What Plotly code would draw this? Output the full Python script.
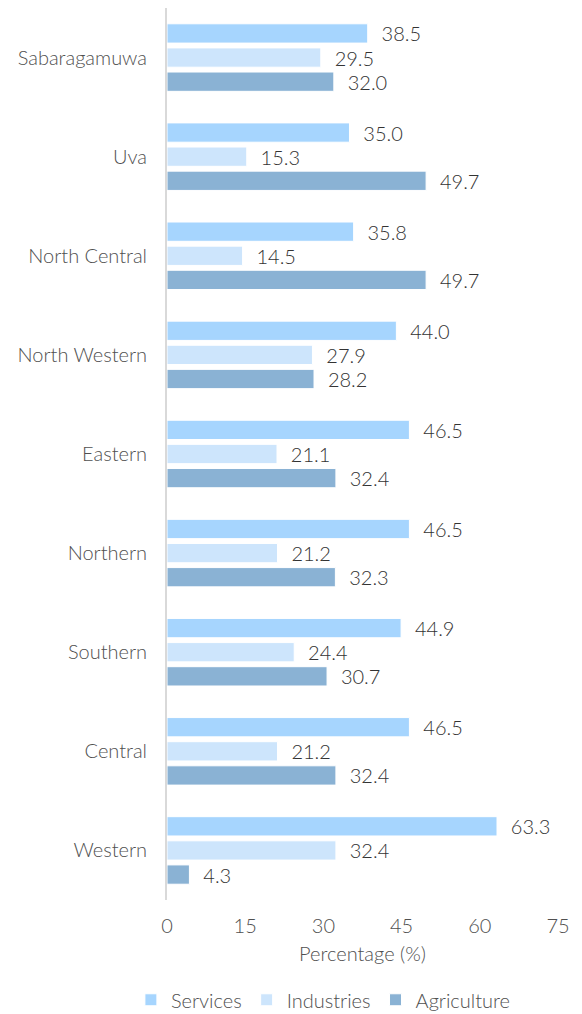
import plotly.graph_objects as go

# Provinces, bottom to top
provinces = ["Western", "Central", "Southern", "Northern", "Eastern",
             "North Western", "North Central", "Uva", "Sabaragamuwa"]
services = [63.3, 46.5, 44.9, 46.5, 46.5, 44.0, 35.8, 35.0, 38.5]
industries = [32.4, 21.2, 24.4, 21.2, 21.1, 27.9, 14.5, 15.3, 29.5]
agriculture = [4.3, 32.4, 30.7, 32.3, 32.4, 28.2, 49.7, 49.7, 32.0]
x_ticks = [0, 15, 30, 45, 60, 75]

series = [
    ("Agriculture", agriculture, "#8ab2d4"),
    ("Industries", industries, "#cde5fc"),
    ("Services", services, "#a6d5fe"),
]

FONT = "Lato"
W = 300  # light weight
LABEL = "#505050"

fig = go.Figure()
for name, vals, color in series:
    fig.add_trace(go.Bar(
        y=provinces, x=vals, name=name, orientation="h",
        marker=dict(color=color, line=dict(color="white", width=1)),
        text=[f"{v:.1f}" for v in vals],
        texttemplate="  %{text}",
        textposition="outside",
        constraintext="none",
        textfont=dict(family=FONT, size=20, color="#333333", weight=W),
        cliponaxis=False,
    ))

fig.update_layout(
    width=582, height=1014,
    margin=dict(l=167, r=24, t=8, b=114, autoexpand=False),
    barmode="group", bargap=0.27, bargroupgap=0.2,
    plot_bgcolor="white", paper_bgcolor="white",
    font=dict(family=FONT, size=19, color=LABEL, weight=W),
    legend=dict(orientation="h", traceorder="reversed",
                x=0.40, xanchor="center", y=-0.09, yanchor="top",
                font=dict(size=20, color=LABEL, weight=W),
                itemwidth=30),
    xaxis=dict(range=[0, 75], tickvals=x_ticks, showgrid=False,
               zeroline=False, showline=False,
               ticklabelstandoff=12,
               tickfont=dict(size=20, color=LABEL, weight=W),
               title=dict(text="Percentage (%)",
                          font=dict(size=20, color=LABEL, weight=W),
                          standoff=10)),
    yaxis=dict(showline=True, linecolor="#d9d9d9", linewidth=2,
               showgrid=False, ticks="", ticklabelstandoff=14,
               tickfont=dict(size=20, color=LABEL, weight=W)),
)

fig.write_html("out.html")
